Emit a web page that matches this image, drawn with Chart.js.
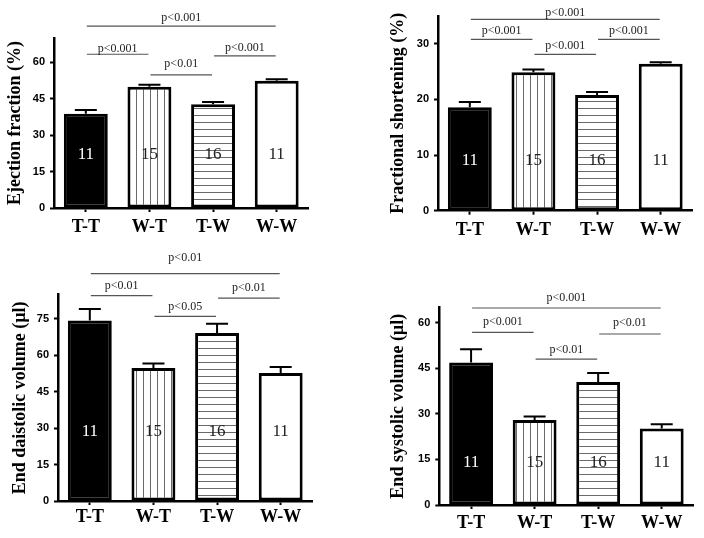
<!DOCTYPE html>
<html>
<head>
<meta charset="utf-8">
<script src="https://cdn.jsdelivr.net/npm/chart.js@4.4.0/dist/chart.umd.min.js"></script>
<style>
  html, body { margin:0; padding:0; background:#fff; }
  #wrap { position:relative; width:704px; height:538px; overflow:hidden; background:#fff; }
  #wrap canvas { position:absolute; }
</style>
</head>
<body>
<div id="wrap">
  <canvas id="cEF"  width="352" height="269" style="left:0;top:0"></canvas>
  <canvas id="cFS"  width="352" height="269" style="left:352px;top:0"></canvas>
  <canvas id="cEDV" width="352" height="298" style="left:0;top:240px"></canvas>
  <canvas id="cESV" width="352" height="298" style="left:352px;top:240px"></canvas>
</div>
<script>
// ---- data ----
const groups    = ['T-T', 'W-T', 'T-W', 'W-W'];
const nPerGroup = [11, 15, 16, 11];

const efMean  = [38.8, 49.9, 42.7, 52.4];
const efSem   = [1.6, 0.8, 0.9, 0.6];
const fsMean  = [18.6, 24.9, 20.8, 26.4];
const fsSem   = [0.95, 0.5, 0.55, 0.3];
const edvMean = [74.4, 54.8, 69.2, 52.7];
const edvSem  = [4.7, 1.9, 3.8, 2.5];
const esvMean = [46.9, 28.0, 40.5, 25.2];
const esvSem  = [4.3, 1.1, 2.9, 1.4];

const efTicks  = [0, 15, 30, 45, 60];
const fsTicks  = [0, 10, 20, 30];
const edvTicks = [0, 15, 30, 45, 60, 75];
const esvTicks = [0, 15, 30, 45, 60];

// comparisons: [from group, to group]
const sigPairs = [[0, 3], [0, 1], [1, 2], [2, 3]];
const efP  = ['p<0.001', 'p<0.001', 'p<0.01', 'p<0.001'];
const fsP  = ['p<0.001', 'p<0.001', 'p<0.001', 'p<0.001'];
const edvP = ['p<0.01', 'p<0.01', 'p<0.05', 'p<0.01'];
const esvP = ['p<0.001', 'p<0.001', 'p<0.01', 'p<0.01'];

// ---- hatch fills ----
function stripes(dir){
  const c = document.createElement('canvas');
  c.width = 7; c.height = 7;
  const g = c.getContext('2d');
  g.fillStyle = '#fff'; g.fillRect(0, 0, 7, 7);
  g.fillStyle = '#6a6a6a';
  if(dir === 'v') g.fillRect(3, 0, 1, 7); else g.fillRect(0, 3, 7, 1);
  return g.createPattern(c, 'repeat');
}
const fills = ['#000', stripes('v'), stripes('h'), '#fff'];

const SERIF = "'Liberation Serif', 'Times New Roman', serif";
const SANS  = "'Liberation Sans', Arial, sans-serif";

// error bars, n labels and the comparison brackets
function extras(sem, pLabels, lineAt, textAt, nAt){
  return {
    id: 'extras',
    afterDatasetsDraw(chart){
      const ctx = chart.ctx, xs = chart.scales.x, ys = chart.scales.y;
      const vals = chart.data.datasets[0].data;
      const bars = chart.getDatasetMeta(0).data;
      ctx.save();
      ctx.strokeStyle = '#000'; ctx.lineWidth = 2;
      bars.forEach((b, i) => {
        const t = ys.getPixelForValue(vals[i] + sem[i]);
        ctx.beginPath();
        ctx.moveTo(b.x, b.y); ctx.lineTo(b.x, t);
        ctx.moveTo(b.x - 11, t); ctx.lineTo(b.x + 11, t);
        ctx.stroke();
      });
      ctx.font = '17px ' + SERIF;
      ctx.textAlign = 'center'; ctx.textBaseline = 'middle';
      bars.forEach((b, i) => {
        ctx.fillStyle = i === 0 ? '#fff' : '#222';
        ctx.fillText(String(nPerGroup[i]), b.x, ys.getPixelForValue(nAt));
      });
      ctx.strokeStyle = '#555'; ctx.lineWidth = 1.2;
      ctx.font = '12px ' + SERIF; ctx.fillStyle = '#222';
      sigPairs.forEach((p, k) => {
        const x1 = xs.getPixelForValue(p[0]) + 1, x2 = xs.getPixelForValue(p[1]) - 1;
        const yl = ys.getPixelForValue(lineAt[k]);
        ctx.beginPath(); ctx.moveTo(x1, yl); ctx.lineTo(x2, yl); ctx.stroke();
        ctx.fillText(pLabels[k], (x1 + x2) / 2, ys.getPixelForValue(textAt[k]));
      });
      ctx.restore();
    }
  };
}

function panel(id, o){
  new Chart(document.getElementById(id), {
    type: 'bar',
    data: {
      labels: groups,
      datasets: [{
        data: o.mean,
        backgroundColor: fills,
        borderColor: '#000',
        borderWidth: 3,
        borderSkipped: false,
        barPercentage: 0.69,
        categoryPercentage: 1
      }]
    },
    options: {
      responsive: false,
      animation: false,
      events: [],
      layout: { padding: { left: 0, right: o.padRight, top: o.padTop, bottom: 0 } },
      plugins: { legend: { display: false }, tooltip: { enabled: false } },
      scales: {
        x: {
          offset: true,
          afterFit: s => { s.height = o.xHeight; },
          grid: { offset: false, drawOnChartArea: false, drawTicks: true, tickLength: 4, tickWidth: 2, tickColor: '#000' },
          border: { color: '#000', width: 2.5 },
          ticks: { color: '#000', padding: o.xPad, font: { family: SERIF, size: 18, weight: 'bold' } }
        },
        y: {
          min: 0, max: o.max,
          afterFit: s => { s.width = o.yWidth; },
          afterBuildTicks: s => { s.ticks = o.ticks.map(v => ({ value: v })); },
          grid: { drawOnChartArea: false, drawTicks: true, tickLength: 4, tickWidth: 2, tickColor: '#000' },
          border: { color: '#000', width: 2.5 },
          ticks: { color: '#000', padding: 5, font: { family: SANS, size: 11, weight: 'bold' } },
          title: { display: true, text: o.title, color: '#000',
                   padding: { top: o.titlePad, bottom: 0 },
                   font: { family: SERIF, size: 18, weight: 'bold' } }
        }
      }
    },
    plugins: [extras(o.sem, o.p, o.lineAt, o.textAt, o.nAt)]
  });
}

panel('cEF', {
  mean: efMean, sem: efSem, ticks: efTicks, max: 70, p: efP,
  title: 'Ejection fraction (%)',
  lineAt: [74.9, 63.3, 54.8, 62.6], textAt: [78.5, 65.6, 59.2, 65.8], nAt: 22.2,
  padTop: 38, padRight: 43.5, yWidth: 54, xHeight: 61, titlePad: 4.2, xPad: 5
});
panel('cFS', {
  mean: fsMean, sem: fsSem, ticks: fsTicks, max: 35, p: fsP,
  title: 'Fractional shortening (%)',
  lineAt: [34.4, 30.8, 28.1, 30.8], textAt: [35.5, 32.4, 29.6, 32.4], nAt: 9.1,
  padTop: 16, padRight: 11.5, yWidth: 86, xHeight: 58.3, titlePad: 35.9, xPad: 5
});
panel('cEDV', {
  mean: edvMean, sem: edvSem, ticks: edvTicks, max: 85, p: edvP,
  title: 'End daistolic volume (µl)',
  lineAt: [93.7, 84.6, 76.1, 83.6], textAt: [100.0, 88.5, 80.2, 87.8], nAt: 28.6,
  padTop: 54.7, padRight: 39.5, yWidth: 58, xHeight: 37, titlePad: 9.2, xPad: 2
});
panel('cESV', {
  mean: esvMean, sem: esvSem, ticks: esvTicks, max: 65, p: esvP,
  title: 'End systolic volume (µl)',
  lineAt: [64.8, 56.8, 48.0, 56.25], textAt: [68.3, 60.1, 51.0, 59.8], nAt: 13.9,
  padTop: 67.4, padRight: 10.5, yWidth: 87.3, xHeight: 33, titlePad: 35.9, xPad: 4
});
</script>
</body>
</html>
